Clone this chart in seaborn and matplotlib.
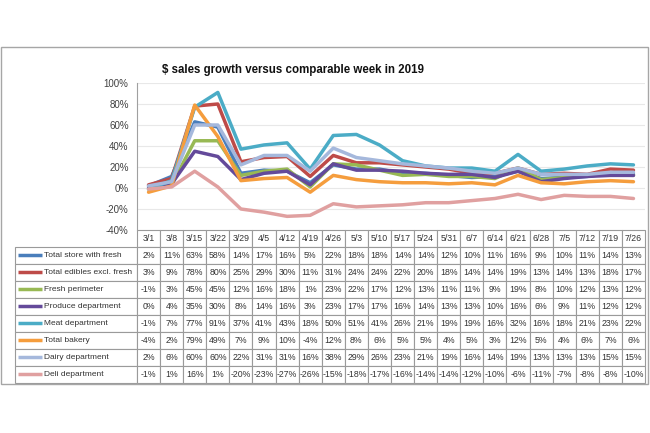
import matplotlib
matplotlib.use("Agg")
import matplotlib.pyplot as plt
from matplotlib.patches import Rectangle
import numpy as np
import pandas as pd
import seaborn as sns

weeks = ["3/1", "3/8", "3/15", "3/22", "3/29", "4/5", "4/12", "4/19", "4/26", "5/3", "5/10",
         "5/17", "5/24", "5/31", "6/7", "6/14", "6/21", "6/28", "7/5", "7/12", "7/19", "7/26"]

series_names = ["Total store with fresh", "Total edibles excl. fresh", "Fresh perimeter",
                "Produce department", "Meat department", "Total bakery",
                "Dairy department", "Deli department"]

total_store = [2, 11, 63, 58, 14, 17, 16, 5, 22, 18, 18, 14, 14, 12, 10, 11, 16, 9, 10, 11, 14, 13]
total_edibles = [3, 9, 78, 80, 25, 29, 30, 11, 31, 24, 24, 22, 20, 18, 14, 14, 19, 13, 14, 13, 18, 17]
fresh_perimeter = [-1, 3, 45, 45, 12, 16, 18, 1, 23, 22, 17, 12, 13, 11, 11, 9, 19, 8, 10, 12, 13, 12]
produce = [0, 4, 35, 30, 8, 14, 16, 3, 23, 17, 17, 16, 14, 13, 13, 10, 16, 6, 9, 11, 12, 12]
meat = [-1, 7, 77, 91, 37, 41, 43, 18, 50, 51, 41, 26, 21, 19, 19, 16, 32, 16, 18, 21, 23, 22]
bakery = [-4, 2, 79, 49, 7, 9, 10, -4, 12, 8, 6, 5, 5, 4, 5, 3, 12, 5, 4, 6, 7, 6]
dairy = [2, 6, 60, 60, 22, 31, 31, 16, 38, 29, 26, 23, 21, 19, 16, 14, 19, 13, 13, 13, 15, 15]
deli = [-1, 1, 16, 1, -20, -23, -27, -26, -15, -18, -17, -16, -14, -14, -12, -10, -6, -11, -7, -8, -8, -10]

all_series = [total_store, total_edibles, fresh_perimeter, produce, meat, bakery, dairy, deli]

colors = ["#4A7EBB", "#BE4B48", "#98B954", "#644A9A", "#4BACC6", "#F59D3D", "#A5B8DC", "#E0A0A0"]

title = "$ sales growth versus comparable week in 2019"

sns.set_theme(style="white")
plt.rcParams["font.family"] = ["Liberation Sans", "DejaVu Sans"]

rows = []
for name, vals in zip(series_names, all_series):
    for i, v in enumerate(vals):
        rows.append({"week": i, "series": name, "value": v})
df = pd.DataFrame(rows)

W, H = 650, 433
fig = plt.figure(figsize=(6.5, 4.33), dpi=100)
fig.patch.set_facecolor("white")

ax_l, ax_r, ax_t, ax_b = 137, 645, 83, 230
ax = fig.add_axes([ax_l / W, 1 - ax_b / H, (ax_r - ax_l) / W, (ax_b - ax_t) / H])

sns.lineplot(data=df, x="week", y="value", hue="series", hue_order=series_names,
             palette=colors, linewidth=2.5, legend=False, ax=ax, sort=False)

ax.set_xlim(-0.5, len(weeks) - 0.5)
ax.set_ylim(-40, 100)
ax.set_yticks(np.arange(-40, 101, 20))
ax.set_yticklabels([f"{v}%" for v in range(-40, 101, 20)], fontsize=7, color="#404040")
ax.set_xticks([])
ax.set_xlabel("")
ax.set_ylabel("")
ax.tick_params(axis="y", length=0, pad=6)
ax.grid(axis="y", color="#e8e8e8", linewidth=0.8)
ax.set_axisbelow(True)
for s in ["top", "right", "bottom"]:
    ax.spines[s].set_visible(False)
ax.spines["left"].set_color("#a0a0a0")
ax.spines["left"].set_linewidth(0.8)

# Data table
cell_text = []
for name, vals in zip(series_names, all_series):
    cell_text.append([name] + [f"{v}%" for v in vals])

tab_left, tab_right, tab_bottom = 15, 645, 383
plot_w = ax_r - ax_l
plot_h = ax_b - ax_t
bx0 = (tab_left - ax_l) / plot_w
bw = (tab_right - tab_left) / plot_w
by0 = (ax_b - tab_bottom) / plot_h
bh = (tab_bottom - ax_b) / plot_h

label_w = ax_l - tab_left
col_w = plot_w / len(weeks)
col_widths = [label_w] + [col_w] * len(weeks)
tot = sum(col_widths)
col_widths = [c / tot for c in col_widths]

tab = ax.table(cellText=cell_text, colLabels=[""] + weeks, colWidths=col_widths,
               cellLoc="center", bbox=[bx0, by0, bw, bh])
tab.auto_set_font_size(False)
tab.set_fontsize(6.3)
for (r, c), cell in tab.get_celld().items():
    cell.set_edgecolor("#9a9a9a")
    cell.set_linewidth(0.8)
    cell.get_text().set_color("#333333")
    if r == 0 and c == 0:
        cell.visible_edges = ""
    if c == 0 and r > 0:
        cell.get_text().set_ha("left")
        cell.get_text().set_fontsize(6.0)
        cell.PAD = 29 / label_w

nrows = len(series_names) + 1
rh = bh / nrows
sx0 = (18 - ax_l) / plot_w
sx1 = (42 - ax_l) / plot_w
for i, col in enumerate(colors):
    yc = -(i + 1.5) * rh
    ax.plot([sx0, sx1], [yc, yc], color=col, linewidth=2.5, transform=ax.transAxes,
            clip_on=False, solid_capstyle="butt")

fig.add_artist(Rectangle((1 / W, 1 - 384 / H), 647 / W, 337 / H, transform=fig.transFigure,
                         fill=False, edgecolor="#a6a6a6", linewidth=1))

fig.text(293 / W, 1 - 70 / H, title, ha="center", va="center", fontweight="bold",
         fontsize=8.3, color="#111111")

fig.savefig("out.png", dpi=100)
